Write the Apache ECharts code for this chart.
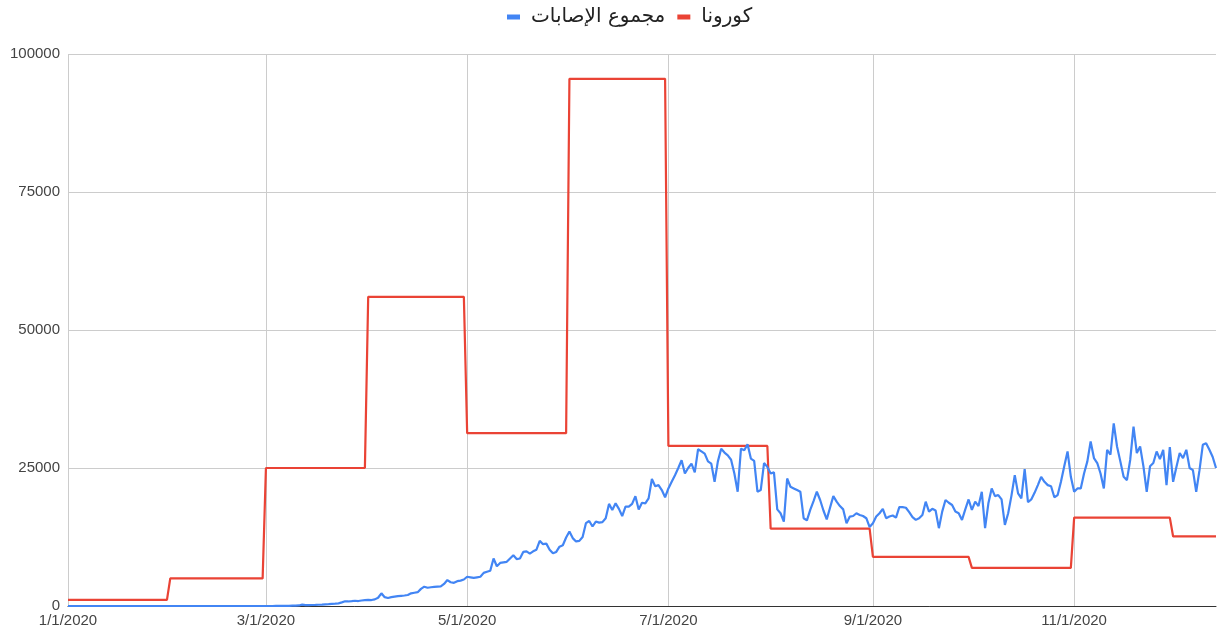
<!DOCTYPE html>
<html>
<head>
<meta charset="utf-8">
<script src="https://cdn.jsdelivr.net/npm/echarts@6/dist/echarts.min.js"></script>
<style>
  html, body { margin: 0; padding: 0; background: #fff; }
  #chart { width: 1219px; height: 635px; }
</style>
</head>
<body>
<div id="chart"></div>
<script>
// daily series, 1/1/2020 .. 12/14/2020
const casesJan = [0,0,0,0,0,0,0,0,0,0,0,0,0,0,0,0,0,0,0,0,0,0,0,0,0,0,0,0,0,0,0];
const casesFeb = [0,0,0,0,0,0,0,0,0,0,0,0,0,0,0,0,0,0,0,0,0,0,0,0,0,0,0,0,0];
const casesMar = [0,0,0,5,10,20,30,40,60,80,100,250,150,160,180,200,230,260,300,330,380,420,480,650,850,820,880,950,900,1000,1050];
const casesApr = [1100,1080,1200,1500,2300,1600,1450,1600,1700,1800,1850,1900,2000,2300,2400,2500,3100,3500,3300,3400,3450,3500,3550,4000,4700,4300,4200,4500,4600,4800];
const casesMay = [5300,5200,5100,5200,5300,6000,6200,6400,8600,7200,7800,7900,8000,8600,9200,8500,8600,9800,9900,9500,9900,10200,11800,11200,11300,10200,9550,9800,10750,11000,12400];
const casesJun = [13500,12300,11700,11800,12500,15000,15400,14400,15300,15100,15200,15900,18500,17400,18600,17600,16300,18000,18000,18500,19900,17500,18700,18600,19500,23000,21700,21900,21000,19700];
const casesJul = [21300,22500,23700,25000,26400,24000,25000,25800,24200,28400,28000,27600,26200,25800,22500,26200,28500,27800,27300,26500,24000,20700,28500,28200,29300,26700,26300,20700,21000,25900,25200];
const casesAug = [24000,24200,17500,16800,15300,23100,21600,21300,21000,20700,15900,15500,17400,19000,20700,19200,17300,15700,17800,19900,18900,18100,17500,15000,16200,16300,16800,16500,16300,15900,14300];
const casesSep = [15000,16200,16800,17600,15900,16200,16400,16000,17900,17900,17800,17000,16100,15600,15900,16500,18900,17100,17600,17300,14100,17100,19200,18700,18300,17100,16800,15600,17500,19300];
const casesOct = [17400,18900,18100,20700,14100,18600,21300,19900,20100,19300,14700,16800,20000,23700,20400,19500,24800,18800,19300,20500,21900,23400,22500,21900,21700,19700,20100,22500,25300,28000,23400];
const casesNov = [20700,21300,21300,24000,26200,29800,26800,25900,24000,21300,28300,27400,33100,28900,26200,23400,22800,26500,32500,27700,28900,25300,20700,25300,25900,28000,26600,28300,21900,28800];
const casesDec = [22500,25200,27700,26800,28300,25000,24600,20700,24600,29200,29500,28300,27000,25000];

// monthly step values (Jan..Dec)
const coronaMonthly = [1100, 5000, 25000, 56000, 31300, 95500, 29000, 14000, 8900, 6900, 16000, 12600];

const yTicks = [0, 25000, 50000, 75000, 100000];

const casesDaily = [].concat(casesJan, casesFeb, casesMar, casesApr, casesMay, casesJun,
  casesJul, casesAug, casesSep, casesOct, casesNov, casesDec);

const days = casesDaily.map((v, i) => new Date(2020, 0, 1 + i));
const categories = days.map(d => (d.getMonth() + 1) + '/' + d.getDate() + '/' + d.getFullYear());
const coronaDaily = days.map(d => coronaMonthly[d.getMonth()]);

// label / grid every 2 months, on the 1st
const showTick = (i, v) => /^(1|3|5|7|9|11)\/1\//.test(v);

const chart = echarts.init(document.getElementById('chart'));
chart.setOption({
  animation: false,
  textStyle: { fontFamily: 'Liberation Sans, DejaVu Sans, sans-serif' },
  legend: {
    top: 2,
    left: 502,
    data: ['مجموع الإصابات', 'كورونا'],
    icon: 'rect',
    itemWidth: 13,
    itemHeight: 5,
    itemGap: 12,
    textStyle: { fontSize: 20, color: '#222', fontFamily: 'DejaVu Sans, sans-serif', padding: [0, 0, 0, 6] }
  },
  grid: { left: 68, right: 3, top: 54, bottom: 29 },
  xAxis: {
    type: 'category',
    data: categories,
    boundaryGap: false,
    axisLine: { lineStyle: { color: '#333', width: 1 } },
    axisTick: { show: false },
    axisLabel: { interval: showTick, color: '#444', fontSize: 15, margin: 7 },
    splitLine: { show: true, interval: showTick, lineStyle: { color: '#ccc' } }
  },
  yAxis: {
    type: 'value',
    min: yTicks[0],
    max: yTicks[yTicks.length - 1],
    interval: 25000,
    axisLine: { show: false },
    axisTick: { show: false },
    axisLabel: { color: '#444', fontSize: 15, margin: 8, formatter: v => String(v) },
    splitLine: { lineStyle: { color: '#ccc' } }
  },
  series: [
    {
      name: 'كورونا',
      type: 'line',
      data: coronaDaily,
      showSymbol: false,
      lineStyle: { color: '#EA4335', width: 2.2 },
      itemStyle: { color: '#EA4335' }
    },
    {
      name: 'مجموع الإصابات',
      type: 'line',
      data: casesDaily,
      showSymbol: false,
      lineStyle: { color: '#4285F4', width: 2.2 },
      itemStyle: { color: '#4285F4' }
    }
  ]
});
</script>
</body>
</html>
